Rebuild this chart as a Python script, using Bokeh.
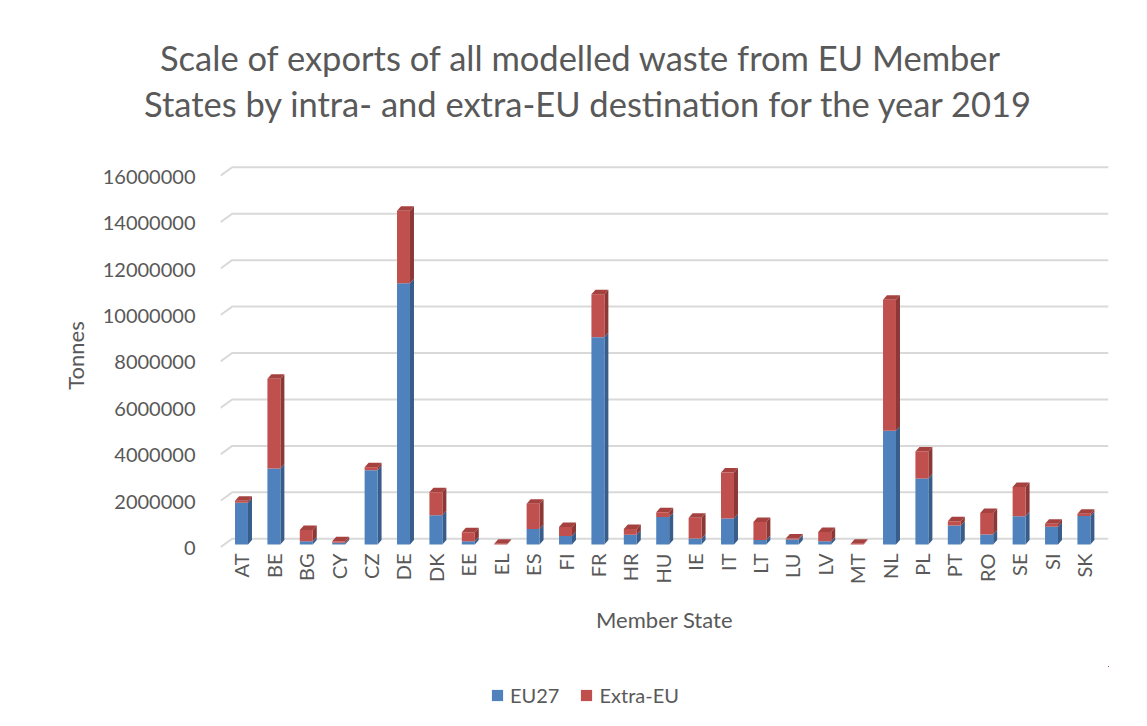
from bokeh.plotting import figure
from bokeh.layouts import column
from bokeh.models import (Range1d, FixedTicker, Legend, LegendItem, Title)
from bokeh.embed import file_html
from bokeh.resources import INLINE

# ---- data ----
states = ["AT", "BE", "BG", "CY", "CZ", "DE", "DK", "EE", "EL", "ES", "FI", "FR", "HR", "HU",
          "IE", "IT", "LT", "LU", "LV", "MT", "NL", "PL", "PT", "RO", "SE", "SI", "SK"]
eu27 = [1800000, 3270000, 140000, 70000, 3200000, 11250000, 1260000, 140000, 0, 670000,
        370000, 8930000, 420000, 1180000, 260000, 1120000, 190000, 220000, 140000, 0,
        4900000, 2840000, 820000, 430000, 1220000, 760000, 1230000]
extra_eu = [80000, 3870000, 480000, 70000, 130000, 3120000, 990000, 390000, 30000, 1090000,
            380000, 1850000, 250000, 210000, 890000, 1980000, 780000, 40000, 400000, 30000,
            5640000, 1170000, 180000, 930000, 1260000, 130000, 90000]
y_ticks = [0, 2000000, 4000000, 6000000, 8000000, 10000000, 12000000, 14000000, 16000000]
series_names = ["EU27", "Extra-EU"]
title_lines = ["Scale of exports of all modelled waste from EU Member",
               "States by intra- and extra-EU destination for the year 2019"]

TXT = "#595959"
FONT = "Lato"
BLUE, BLUE_SIDE = "#4F81BD", "#385D8A"
RED, RED_SIDE, RED_TOP = "#C0504D", "#8C3836", "#A5423F"

W, H1, H2 = 1147, 666, 58
PX_PER_CAT = 32.4
TONNE_PER_PX = 43066.0

p = figure(width=W, height=H1, output_backend="svg", toolbar_location=None,
           x_range=Range1d(-0.648, 26.759),
           y_range=Range1d(-6 * TONNE_PER_PX, -6 * TONNE_PER_PX + 390 * TONNE_PER_PX),
           min_border_left=220, min_border_right=39, min_border_top=160, min_border_bottom=116)
p.outline_line_color = None
p.grid.visible = False
p.background_fill_color = "white"
p.border_fill_color = "white"

# perspective gridlines (front-left slant, then back wall line)
x_front = -0.648
x_back = x_front + 11.7 / PX_PER_CAT
x_right = 26.759
front_off = -2.7 * TONNE_PER_PX
back_off = 5.7 * TONNE_PER_PX
gx = [[x_front, x_back, x_right] for v in y_ticks]
gy = [[v + front_off, v + back_off, v + back_off] for v in y_ticks]
p.multi_line(gx, gy, line_color="#d9d9d9", line_width=2)

# bars with 3D look
bw = 0.40
dx = 4.0 / PX_PER_CAT
dy = 4.5 * TONNE_PER_PX
xs = list(range(len(states)))
tot = [a + b for a, b in zip(eu27, extra_eu)]

side_x = [[i + bw / 2, i + bw / 2 + dx, i + bw / 2 + dx, i + bw / 2] for i in xs]
side_blue_y = [[0, dy, e + dy, e] for e in eu27]
side_red_y = [[e, e + dy, t + dy, t] for e, t in zip(eu27, tot)]
top_x = [[i - bw / 2, i - bw / 2 + dx, i + bw / 2 + dx, i + bw / 2] for i in xs]
top_y = [[t, t + dy, t + dy, t] for t in tot]

p.patches(side_x, side_blue_y, fill_color=BLUE_SIDE, line_color=None)
p.patches(side_x, side_red_y, fill_color=RED_SIDE, line_color=None)
p.patches(top_x, top_y, fill_color=RED_TOP, line_color=None)
p.vbar(x=xs, width=bw, bottom=0, top=eu27, fill_color=BLUE, line_color=None)
p.vbar(x=xs, width=bw, bottom=eu27, top=tot, fill_color=RED, line_color=None)

# axes
xa = p.xaxis[0]
xa.ticker = FixedTicker(ticks=xs)
xa.major_label_overrides = {i: s for i, s in enumerate(states)}
xa.major_label_orientation = 1.5707963267948966
xa.axis_line_color = None
xa.major_tick_line_color = None
xa.minor_tick_line_color = None
xa.major_tick_out = 0
xa.major_label_standoff = 3
xa.major_label_text_font = FONT
xa.major_label_text_font_size = "20px"
xa.major_label_text_color = TXT
xa.axis_label = "Member State"
xa.axis_label_text_font = FONT
xa.axis_label_text_font_size = "22px"
xa.axis_label_text_font_style = "normal"
xa.axis_label_text_color = TXT
xa.axis_label_standoff = 19

ya = p.yaxis[0]
lab_off = -3.7 * TONNE_PER_PX
ya.ticker = FixedTicker(ticks=[v + lab_off for v in y_ticks])
ya.major_label_overrides = {v + lab_off: str(v) for v in y_ticks}
ya.axis_line_color = None
ya.major_tick_line_color = None
ya.minor_tick_line_color = None
ya.major_tick_out = 0
ya.major_label_standoff = 25
ya.major_label_text_font = FONT
ya.major_label_text_font_size = "20px"
ya.major_label_text_color = TXT
ya.axis_label = "Tonnes"
ya.axis_label_text_font = FONT
ya.axis_label_text_font_size = "22px"
ya.axis_label_text_font_style = "normal"
ya.axis_label_text_color = TXT
ya.axis_label_standoff = 11

# title: spacer + two lines, stacked upward from the frame
p.add_layout(Title(text=" ", text_font_size="1px", standoff=31), "above")
for txt, off in [(title_lines[1], -76.5), (title_lines[0], -60.5)]:
    p.add_layout(Title(text=txt, align="left", offset=off, vertical_align="middle",
                       standoff=3, text_font=FONT, text_font_size="34.5px",
                       text_font_style="normal", text_color=TXT), "above")

# legend strip below the chart; its key renderers hold the series but sit outside its view
lg = figure(width=W, height=H2, output_backend="svg", toolbar_location=None,
            x_range=Range1d(-30, -29), y_range=Range1d(-2, -1),
            x_axis_type=None, y_axis_type=None,
            min_border_left=0, min_border_right=0, min_border_top=0, min_border_bottom=0)
lg.outline_line_color = None
lg.grid.visible = False
lg.background_fill_color = "white"
lg.border_fill_color = "white"
k1 = lg.vbar(x=xs, width=bw, bottom=0, top=eu27, fill_color=BLUE, line_color=None)
k2 = lg.vbar(x=xs, width=bw, bottom=eu27, top=tot, fill_color=RED, line_color=None)
legend = Legend(items=[LegendItem(label=series_names[0], renderers=[k1]),
                       LegendItem(label=series_names[1], renderers=[k2])],
                orientation="horizontal", location=(270, 17),
                glyph_width=14, glyph_height=14, label_standoff=6, spacing=20,
                padding=0, margin=0, border_line_color=None, background_fill_alpha=0,
                label_text_font=FONT, label_text_font_size="20px", label_text_color=TXT)
lg.add_layout(legend)

open("out.html", "w").write(file_html(column(p, lg, spacing=0), INLINE))
